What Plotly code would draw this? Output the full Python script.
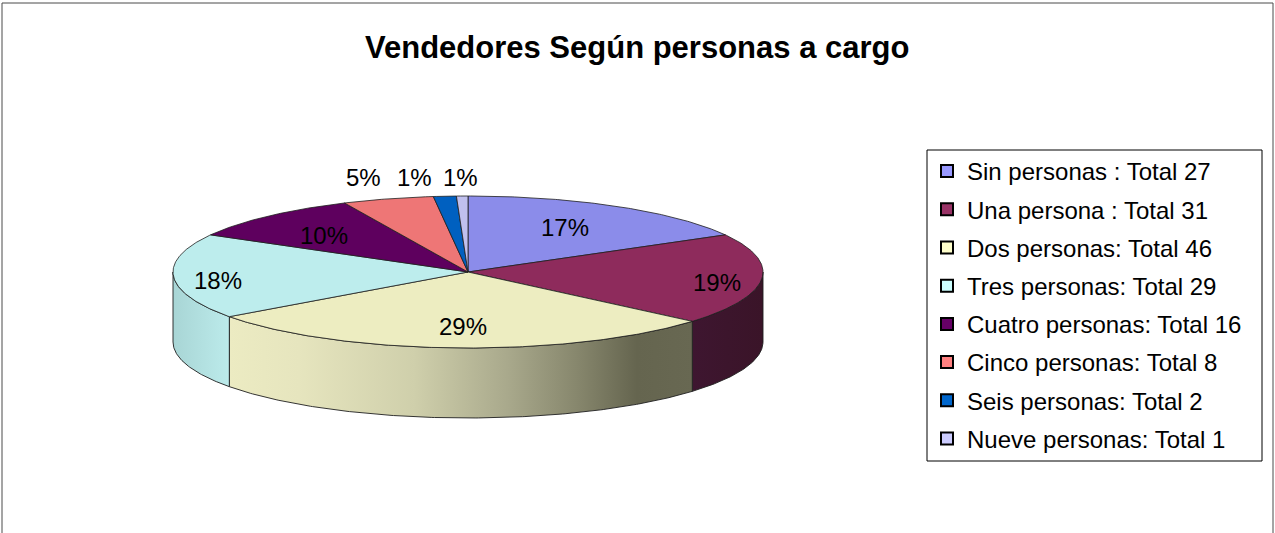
import numpy as np
import plotly.graph_objects as go

# ---------------- data ----------------
categories = [
    "Sin personas : Total 27",
    "Una persona : Total 31",
    "Dos personas: Total 46",
    "Tres personas: Total 29",
    "Cuatro personas: Total 16",
    "Cinco personas: Total 8",
    "Seis personas: Total 2",
    "Nueve personas: Total 1",
]
values = [27, 31, 46, 29, 16, 8, 2, 1]
title_text = "Vendedores Según personas a cargo"

# ---------------- styles ----------------
top_colors = ["#8B8CEA", "#8E2B5C", "#EDEDC1", "#BDEDED", "#5E005E", "#EE7676", "#0060C0", "#C0C0EE"]
legend_colors = ["#9999FF", "#993366", "#FFFFCC", "#CCFFFF", "#660066", "#FF8080", "#0066CC", "#CCCCFF"]
side_scales = [
    [[0, "#6A6AB8"], [1, "#5A5AA0"]],
    [[0, "#3E1630"], [1, "#3A1428"]],
    [[0, "#ECEBC2"], [0.15, "#E6E5BE"], [0.4, "#CFCFAB"], [0.6, "#A9A98C"],
     [0.75, "#87876D"], [0.88, "#65654F"], [1, "#686852"]],
    [[0, "#A8D5D5"], [1, "#BCEBEB"]],
    [[0, "#3A003A"], [1, "#3A003A"]],
    [[0, "#B85C5C"], [1, "#B85C5C"]],
    [[0, "#004A94"], [1, "#004A94"]],
    [[0, "#9494B8"], [1, "#9494B8"]],
]
W, H = 1275, 533
CX, CY, RX, RY, DEPTH = 468, 272, 295, 76, 70
EDGE = "#1E1E1E"
FONT = "Arial, Liberation Sans, sans-serif"

total = float(sum(values))
fracs = [v / total for v in values]
bounds = np.concatenate([[0.0], np.cumsum(fracs)]) * 360.0


def ell(theta_deg, dy=0.0):
    t = np.radians(theta_deg)
    return CX + RX * np.sin(t), CY - RY * np.cos(t) + dy


fig = go.Figure()

# side faces (front half only: 90..270 degrees clockwise from top)
for i in range(len(values)):
    a = max(bounds[i], 90.0)
    b = min(bounds[i + 1], 270.0)
    if a >= b:
        continue
    th = np.linspace(a, b, max(int((b - a) * 2), 2))
    xt, yt = ell(th)
    xb, yb = ell(th[::-1], DEPTH)
    xs = np.concatenate([xt, xb, xt[:1]])
    ys = np.concatenate([yt, yb, yt[:1]])
    fig.add_trace(go.Scatter(
        x=xs, y=ys, mode="lines", fill="toself",
        fillgradient=dict(type="horizontal", colorscale=side_scales[i]),
        line=dict(color=EDGE, width=0.9), hoverinfo="skip", showlegend=False))

# top faces
for i in range(len(values)):
    a, b = bounds[i], bounds[i + 1]
    th = np.linspace(a, b, max(int((b - a) * 2), 2))
    xt, yt = ell(th)
    xs = np.concatenate([[CX], xt, [CX]])
    ys = np.concatenate([[CY], yt, [CY]])
    fig.add_trace(go.Scatter(
        x=xs, y=ys, mode="lines", fill="toself", fillcolor=top_colors[i],
        line=dict(color=EDGE, width=0.8), hoverinfo="skip", showlegend=False))

# legend entries
for i, name in enumerate(categories):
    fig.add_trace(go.Scatter(
        x=[None], y=[None], mode="markers", name=name, legendgroup=name,
        marker=dict(symbol="square", size=12, color=legend_colors[i],
                    line=dict(color="#000000", width=2)),
        showlegend=True))

# percentage labels
inside, outside = [], []
for i, f in enumerate(fracs):
    m = (bounds[i] + bounds[i + 1]) / 2.0
    s, c = np.sin(np.radians(m)), np.cos(np.radians(m))
    txt = f"{round(f * 100):.0f}%"
    if f >= 0.06:
        fx = 0.45 + 0.4 * abs(s)
        inside.append([CX + RX * s * fx, CY - RY * c * 0.72 + 5 * abs(s), txt])
    else:
        outside.append([CX + RX * s * 1.3, CY - RY * 1.25, txt])

# keep outside labels from overlapping (push leftwards)
outside.sort(key=lambda p: -p[0])
for k in range(1, len(outside)):
    outside[k][0] = min(outside[k][0], outside[k - 1][0] - 46)

for x, y, txt in inside + outside:
    fig.add_annotation(x=x, y=y, text=txt, showarrow=False,
                       font=dict(family=FONT, size=24, color="#000000"),
                       xanchor="center", yanchor="middle")

# title
fig.add_annotation(x=637, y=47, text=f"<b>{title_text}</b>", showarrow=False,
                   font=dict(family=FONT, size=31, color="#000000"),
                   xanchor="center", yanchor="middle")

# chart border
fig.add_shape(type="rect", x0=2, y0=3, x1=W - 2, y1=H + 20,
              line=dict(color="#4A4A4A", width=1), layer="below")
# legend frame
fig.add_shape(type="rect", x0=927, y0=150, x1=1262, y1=461,
              line=dict(color="#000000", width=1), fillcolor="white", layer="below")

fig.update_layout(
    width=W, height=H,
    margin=dict(l=0, r=0, t=0, b=0),
    paper_bgcolor="white", plot_bgcolor="white",
    xaxis=dict(range=[0, W], visible=False, fixedrange=True),
    yaxis=dict(range=[H, 0], visible=False, fixedrange=True),
    showlegend=True,
    legend=dict(
        x=927 / W, y=1 - 149 / H, xanchor="left", yanchor="top",
        bgcolor="rgba(0,0,0,0)", borderwidth=0,
        font=dict(family=FONT, size=24, color="#000000"),
        tracegroupgap=4, itemclick=False, itemdoubleclick=False,
    ),
)

fig.write_html("out.html", config={"displayModeBar": False},
               post_script="document.body.style.margin='0px';")
